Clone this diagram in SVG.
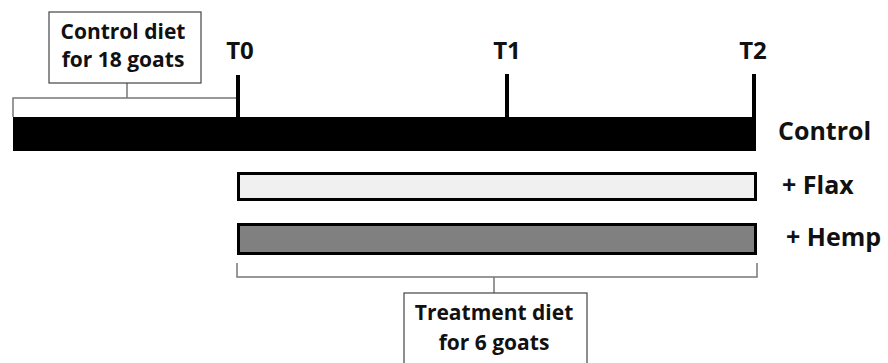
<svg xmlns="http://www.w3.org/2000/svg" width="888" height="363" viewBox="0 0 888 363">
<style>
text{font-family:"Open Sans","Liberation Sans",sans-serif;font-weight:bold;fill:#111}
.lbl{font-size:21px}
.tk{font-size:24px}
.side{font-size:25px}
.br{fill:none;stroke:#777;stroke-width:1.5}
.tick{stroke:#000;stroke-width:4}
.box{fill:#fff;stroke:#444;stroke-width:1.2}
</style>
<rect width="888" height="363" fill="#fff"/>
<g id="connectors">
<path class="br" d="M13,117 V98 H238 M127,83 V98"/>
<path class="br" d="M237,263 V277 H757 V263 M494,277 V293"/>
<line class="tick" x1="238" y1="75" x2="238" y2="118"/>
<line class="tick" x1="507" y1="74" x2="507" y2="118"/>
<line class="tick" x1="754" y1="74" x2="754" y2="118"/>
</g>
<g id="control-bar">
<rect x="13" y="117" width="743" height="34" fill="#000"/>
<text class="side" x="778" y="140">Control</text>
</g>
<g id="flax-bar">
<rect x="238.5" y="173.5" width="517" height="26" fill="#f0f0f0" stroke="#000" stroke-width="3"/>
<text class="side" x="782" y="194">+ Flax</text>
</g>
<g id="hemp-bar">
<rect x="238.5" y="224.5" width="517" height="29" fill="#808080" stroke="#000" stroke-width="3"/>
<text class="side" x="786" y="246">+ Hemp</text>
</g>
<g id="t0"><text class="tk" x="240" y="59" text-anchor="middle">T0</text></g>
<g id="t1"><text class="tk" x="507" y="59" text-anchor="middle">T1</text></g>
<g id="t2"><text class="tk" x="753" y="59" text-anchor="middle">T2</text></g>
<g id="control-diet">
<rect class="box" x="49" y="12" width="152" height="71"/>
<text class="lbl" x="123" y="39" text-anchor="middle">Control diet</text>
<text class="lbl" x="123" y="67" text-anchor="middle">for 18 goats</text>
</g>
<g id="treatment-diet">
<rect class="box" x="404" y="293" width="183" height="75"/>
<text class="lbl" x="494" y="320" text-anchor="middle">Treatment diet</text>
<text class="lbl" x="494" y="350" text-anchor="middle">for 6 goats</text>
</g>
</svg>
